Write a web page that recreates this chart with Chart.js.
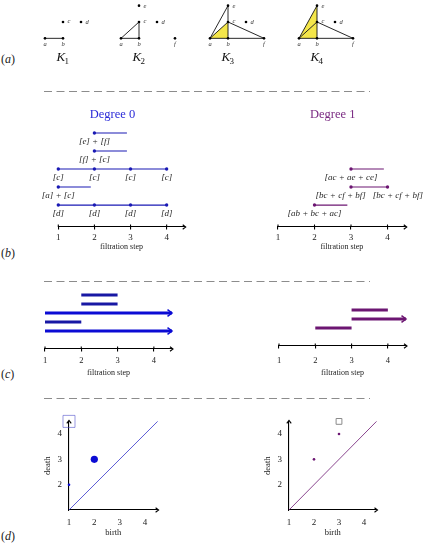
<!DOCTYPE html>
<html>
<head>
<meta charset="utf-8">
<script src="https://cdn.jsdelivr.net/npm/chart.js@4.4.0/dist/chart.umd.min.js"></script>
<style>
body { margin: 0; background: #fff; width: 427px; height: 543px; position: relative; overflow: hidden; }
canvas { position: absolute; }
.tag { position: absolute; left: 1px; font: 12px "Liberation Serif", serif; color: #222; }
</style>
</head>
<body>
<svg width="427" height="543" style="position:absolute;left:0;top:0">
  <g stroke="#8c8c8c" stroke-width="1" stroke-dasharray="8 4.5">
    <line x1="44" y1="91.5" x2="370" y2="91.5"/>
    <line x1="44" y1="281.5" x2="370" y2="281.5"/>
    <line x1="44" y1="398.5" x2="370" y2="398.5"/>
  </g>
</svg>
<div class="tag" style="top:52px">(<i>a</i>)</div>
<div class="tag" style="top:246px">(<i>b</i>)</div>
<div class="tag" style="top:367px">(<i>c</i>)</div>
<div class="tag" style="top:529px">(<i>d</i>)</div>

<canvas id="k0" width="84" height="70" style="left:30px;top:0"></canvas>
<canvas id="k1" width="84" height="70" style="left:106px;top:0"></canvas>
<canvas id="k2" width="84" height="70" style="left:195px;top:0"></canvas>
<canvas id="k3" width="84" height="70" style="left:284px;top:0"></canvas>
<canvas id="steps0" width="170" height="160" style="left:30px;top:100px"></canvas>
<canvas id="steps1" width="177" height="160" style="left:250px;top:100px"></canvas>
<canvas id="bars0" width="160" height="102" style="left:30px;top:283px"></canvas>
<canvas id="bars1" width="177" height="102" style="left:250px;top:283px"></canvas>
<canvas id="diag0" width="140" height="138" style="left:35px;top:405px"></canvas>
<canvas id="diag1" width="140" height="138" style="left:255px;top:405px"></canvas>

<script>
//########## DATA ###########

// vertices of the simplicial complexes
var vertexNames = ['a', 'b', 'c', 'd', 'e', 'f'];
var vertexX = [0, 1, 1, 2, 1, 3];
var vertexY = [0, 0, 1, 1, 2, 0];

// the filtration K1 .. K4
var complexNames = ['K1', 'K2', 'K3', 'K4'];
var complexVertices = ['abcd', 'abcdef', 'abcdef', 'abcdef'];
var complexEdges = [
    ['ab'],
    ['ab', 'ac', 'bc'],
    ['ab', 'ac', 'bc', 'ce', 'ae', 'bf', 'cf'],
    ['ab', 'ac', 'bc', 'ce', 'ae', 'bf', 'cf']
];
var complexTriangles = [[], [], ['abc'], ['abc', 'ace']];

// filtration steps (tick labels)
var steps = [1, 2, 3, 4];

// degree 0 classes, top row first (null = never dies)
var deg0Births = [2, 2, 1, 1, 1];
var deg0Deaths = [3, 3, null, 2, null];
var deg0Labels = [
    ['[e] + [f]'],
    ['[f] + [c]'],
    ['[c]', '[c]', '[c]', '[c]'],
    ['[a] + [c]'],
    ['[d]', '[d]', '[d]', '[d]']
];

// degree 1 classes
var deg1Births = [3, 3, 2];
var deg1Deaths = [4, null, 3];
var deg1Labels = [
    ['[ac + ae + ce]'],
    ['[bc + cf + bf]', '[bc + cf + bf]'],
    ['[ab + bc + ac]']
];

//########## STYLE ###########

var axisMax = 4.5;
var serif = 'Liberation Serif';
var blue = '#1a1ab4';
var blueBright = '#0b0bd4';
var purple = '#6c1672';
var yellow = '#f4e64a';
Chart.defaults.font.family = serif;

// where the little vertex names sit relative to the vertex
var labelOffset = { a: [0, 5.5], b: [0, 5.5], c: [6, -0.7], d: [6, 0.5], e: [6, 0.3], f: [0, 6] };

function vertexPoint(n) {
    var i = vertexNames.indexOf(n);
    return { x: vertexX[i], y: vertexY[i] };
}

function arrowHead(ctx, x, y, dx, dy, s) {
    var nx = -dy, ny = dx;
    ctx.beginPath();
    ctx.moveTo(x - dx * s + nx * s * 0.75, y - dy * s + ny * s * 0.75);
    ctx.lineTo(x, y);
    ctx.lineTo(x - dx * s - nx * s * 0.75, y - dy * s - ny * s * 0.75);
    ctx.stroke();
}

//########## PLUGINS ###########

var complexLabels = {
    id: 'complexLabels',
    afterDatasetsDraw: function (chart, args, opts) {
        var ctx = chart.ctx;
        var xs = chart.scales.x, ys = chart.scales.y;
        ctx.save();
        ctx.fillStyle = '#333';
        ctx.font = 'italic 6.5px "' + serif + '"';
        ctx.textAlign = 'center';
        ctx.textBaseline = 'middle';
        chart.data.datasets.forEach(function (ds) {
            if (!ds.names) return;
            ds.data.forEach(function (p, i) {
                var off = labelOffset[ds.names[i]];
                ctx.fillText(ds.names[i], xs.getPixelForValue(p.x) + off[0], ys.getPixelForValue(p.y) + off[1]);
            });
        });
        // name of the complex, under vertex b
        var bx = xs.getPixelForValue(vertexX[1]);
        var by = chart.chartArea.bottom + 19.5;
        ctx.font = 'italic 13px "' + serif + '"';
        var wK = ctx.measureText(opts.letter).width;
        ctx.font = '9px "' + serif + '"';
        var wS = ctx.measureText(opts.sub).width;
        var left = bx - (wK + wS) / 2;
        ctx.textAlign = 'left';
        ctx.textBaseline = 'alphabetic';
        ctx.fillStyle = '#111';
        ctx.font = 'italic 13px "' + serif + '"';
        ctx.fillText(opts.letter, left, by);
        ctx.font = '9px "' + serif + '"';
        ctx.fillText(opts.sub, left + wK - 0.5, by + 2.5);
        ctx.restore();
    }
};

var rowLabels = {
    id: 'rowLabels',
    afterDatasetsDraw: function (chart) {
        var ctx = chart.ctx;
        ctx.save();
        ctx.font = 'italic 9px "' + serif + '"';
        ctx.fillStyle = '#2a2a2a';
        ctx.textAlign = 'left';
        ctx.textBaseline = 'middle';
        chart.data.datasets.forEach(function (ds, d) {
            if (!ds.texts) return;
            var pts = chart.getDatasetMeta(d).data;
            var boxes = pts.map(function (p, i) {
                var w = ctx.measureText(ds.texts[i]).width;
                return { left: p.x - w / 2, w: w, y: p.y + 9 };
            });
            // push overlapping labels apart
            for (var i = 1; i < boxes.length; i++) {
                var over = boxes[i - 1].left + boxes[i - 1].w + 7 - boxes[i].left;
                if (over > 0) {
                    boxes[i - 1].left -= over / 2;
                    boxes[i].left += over / 2;
                }
            }
            boxes.forEach(function (b, i) { ctx.fillText(ds.texts[i], b.left, b.y); });
        });
        ctx.restore();
    }
};

var degreeTitle = {
    id: 'degreeTitle',
    afterDraw: function (chart, args, opts) {
        if (!opts.text) return;
        var ctx = chart.ctx;
        ctx.save();
        ctx.font = '12.5px "' + serif + '"';
        ctx.fillStyle = opts.color;
        ctx.textAlign = 'center';
        ctx.textBaseline = 'middle';
        ctx.fillText(opts.text, chart.scales.x.getPixelForValue(2.5), chart.chartArea.top - 9);
        ctx.restore();
    }
};

var axisArrows = {
    id: 'axisArrows',
    afterDraw: function (chart, args, opts) {
        var ctx = chart.ctx, a = chart.chartArea;
        ctx.save();
        ctx.strokeStyle = '#000';
        ctx.lineWidth = 1.1;
        if (opts.x) arrowHead(ctx, a.right + 1, a.bottom, 1, 0, 3);
        if (opts.y) arrowHead(ctx, a.left, a.top - 1, 0, -1, 3);
        if (opts.upTicks) {
            chart.scales.x.ticks.forEach(function (t) {
                var x = chart.scales.x.getPixelForValue(t.value);
                ctx.beginPath();
                ctx.moveTo(x, a.bottom - 2.5);
                ctx.lineTo(x, a.bottom);
                ctx.stroke();
            });
        }
        ctx.restore();
    }
};

var barArrows = {
    id: 'barArrows',
    afterDatasetsDraw: function (chart) {
        var ctx = chart.ctx;
        chart.data.datasets.forEach(function (ds, d) {
            if (!ds.openEnd) return;
            var pts = chart.getDatasetMeta(d).data;
            var end = pts[pts.length - 1];
            ctx.save();
            ctx.strokeStyle = ds.borderColor;
            ctx.lineWidth = 1.5;
            arrowHead(ctx, end.x, end.y, 1, 0, 4.5);
            ctx.restore();
        });
    }
};

var quiet = { legend: { display: false }, tooltip: { enabled: false } };

//########## (a) COMPLEXES ###########

complexNames.forEach(function (name, k) {
    var datasets = [];
    complexTriangles[k].forEach(function (tri) {
        var pts = (tri + tri[0]).split('').map(vertexPoint);
        datasets.push({ data: pts, fill: 'shape', backgroundColor: yellow, borderWidth: 0, pointRadius: 0, order: 2 });
    });
    complexEdges[k].forEach(function (e) {
        datasets.push({ data: e.split('').map(vertexPoint), borderColor: '#111', borderWidth: 0.9, pointRadius: 0, fill: false, order: 1 });
    });
    var names = complexVertices[k].split('');
    datasets.push({
        data: names.map(vertexPoint), names: names, showLine: false,
        pointRadius: 1.3, pointBackgroundColor: '#000', pointBorderWidth: 0, order: 0, clip: false
    });

    new Chart(document.getElementById('k' + k), {
        type: 'line',
        data: { datasets: datasets },
        options: {
            responsive: false, animation: false, events: [],
            layout: { padding: { left: 6, right: 6, top: 0.2, bottom: 28.4 } },
            plugins: Object.assign({ complexLabels: { letter: name[0], sub: name.slice(1) } }, quiet),
            scales: {
                x: { type: 'linear', display: false, min: -0.5, max: 3.5 },
                y: { type: 'linear', display: false, min: -0.2, max: 2.1 }
            }
        },
        plugins: [complexLabels]
    });
});

//########## (b) + (c) BARCODES ###########

function stepAxis(height, tickPad, fontSize) {
    return {
        type: 'linear', min: 1, max: axisMax,
        border: { display: true, color: '#000', width: 1.1 },
        grid: { display: true, drawOnChartArea: false, drawTicks: true, tickLength: 2.5, color: '#000', lineWidth: 1.1 },
        ticks: {
            stepSize: 1, includeBounds: false, padding: tickPad, color: '#222', maxRotation: 0, autoSkip: false,
            font: { family: serif, size: fontSize },
            callback: function (v) { return steps.indexOf(v) >= 0 ? String(v) : ''; }
        },
        title: { display: true, text: 'filtration step', color: '#222', font: { family: serif, size: 8 }, padding: { top: 0, bottom: 0 } },
        afterFit: function (s) { s.height = height; }
    };
}

function buildStepChart(canvasId, births, deaths, texts, color, title, titleColor, pad) {
    var n = births.length;
    var datasets = [];
    births.forEach(function (b, i) {
        var y = n - i;
        var d = deaths[i];
        var end = d === null ? steps[steps.length - 1] : d - 0.1;
        var live = steps.filter(function (s) { return s >= b && (d === null || s < d); });
        datasets.push({ data: [{ x: b, y: y }, { x: end, y: y }], borderColor: color, borderWidth: 1.2, pointRadius: 0, clip: false });
        datasets.push({
            data: live.map(function (s) { return { x: s, y: y }; }), texts: texts[i], showLine: false,
            pointRadius: 1.7, pointBackgroundColor: color, pointBorderWidth: 0, clip: false
        });
    });
    return new Chart(document.getElementById(canvasId), {
        type: 'line',
        data: { datasets: datasets },
        options: {
            responsive: false, animation: false, events: [],
            layout: { padding: pad },
            plugins: Object.assign({ degreeTitle: { text: title, color: titleColor }, axisArrows: { x: true, upTicks: true } }, quiet),
            scales: {
                x: stepAxis(25, 3, 9),
                y: { type: 'linear', display: false, min: -0.22, max: 5.5 }
            }
        },
        plugins: [rowLabels, degreeTitle, axisArrows]
    });
}

buildStepChart('steps0', deg0Births, deg0Deaths, deg0Labels, blue, 'Degree 0', '#2a2ad8',
    { left: 28.3, right: 15.3, top: 24, bottom: 8 });
buildStepChart('steps1', deg1Births, deg1Deaths, deg1Labels, purple, 'Degree 1', '#7a2a82',
    { left: 28, right: 21.25, top: 24, bottom: 8 });

function buildBarChart(canvasId, births, deaths, color, infColor, yMax, pad, axisH, tickPad) {
    var n = births.length;
    var datasets = births.map(function (b, i) {
        var y = n - i;
        var open = deaths[i] === null;
        return {
            data: [{ x: b, y: y }, { x: open ? axisMax : deaths[i], y: y }],
            borderColor: open ? infColor : color, borderWidth: 3, pointRadius: 0, clip: false, openEnd: open
        };
    });
    return new Chart(document.getElementById(canvasId), {
        type: 'line',
        data: { datasets: datasets },
        options: {
            responsive: false, animation: false, events: [],
            layout: { padding: pad },
            plugins: Object.assign({ axisArrows: { x: true, upTicks: true } }, quiet),
            scales: {
                x: stepAxis(axisH, tickPad, 8.5),
                y: { type: 'linear', display: false, min: -1, max: yMax }
            }
        },
        plugins: [barArrows, axisArrows]
    });
}

buildBarChart('bars0', deg0Births, deg0Deaths, '#1818a4', blueBright, 5.5,
    { left: 15, right: 18, top: 7.5, bottom: 7 }, 29, 4);
buildBarChart('bars1', deg1Births, deg1Deaths, purple, purple, 3.5,
    { left: 29, right: 21, top: 22.5, bottom: 7.2 }, 31.8, 7);

//########## (d) PERSISTENCE DIAGRAMS ###########

function pairPoints(births, deaths) {
    var pts = [];
    births.forEach(function (b, i) {
        var inf = deaths[i] === null;
        var d = inf ? axisMax : deaths[i];
        var p = pts.find(function (q) { return q.x === b && q.y === d; });
        if (p) p.count++;
        else pts.push({ x: b, y: d, count: 1, inf: inf });
    });
    return pts;
}

function diagramAxis(title, hideOne, fitFn) {
    return {
        type: 'linear', min: 1, max: axisMax,
        border: { display: true, color: '#000', width: 1.1 },
        grid: { display: false, drawTicks: false },
        ticks: {
            stepSize: 1, includeBounds: false, padding: 7, color: '#222', maxRotation: 0, autoSkip: false,
            font: { family: serif, size: 9 },
            callback: function (v) { return steps.indexOf(v) < 0 || (hideOne && v === steps[0]) ? '' : String(v); }
        },
        title: { display: true, text: title, color: '#222', font: { family: serif, size: 8.5 }, padding: { top: 1, bottom: 0 } },
        afterFit: fitFn
    };
}

function buildDiagram(canvasId, births, deaths, color, dotColor, boxColor, pad) {
    var pts = pairPoints(births, deaths);
    var fin = pts.filter(function (p) { return !p.inf; });
    var inf = pts.filter(function (p) { return p.inf; });
    return new Chart(document.getElementById(canvasId), {
        type: 'line',
        data: {
            datasets: [
                {
                    data: fin, showLine: false, clip: false, order: 0,
                    pointRadius: fin.map(function (p) { return p.count > 1 ? 3.6 : 1.3; }),
                    pointBackgroundColor: dotColor, pointBorderWidth: 0
                },
                {
                    data: inf, showLine: false, clip: false, order: 0, pointStyle: 'rect',
                    pointRadius: inf.map(function (p) { return p.count > 1 ? 8.5 : 4.1; }),
                    pointBackgroundColor: 'rgba(0,0,0,0)', pointBorderColor: boxColor, pointBorderWidth: 1
                },
                {
                    data: [{ x: 1, y: 1 }, { x: axisMax, y: axisMax }], order: 1,
                    borderColor: color, borderWidth: 0.8, pointRadius: 0, clip: false
                }
            ]
        },
        options: {
            responsive: false, animation: false, events: [],
            layout: { padding: pad },
            plugins: Object.assign({ axisArrows: { x: true, y: true } }, quiet),
            scales: {
                x: diagramAxis('birth', false, function (s) { s.height = 27.8; }),
                y: diagramAxis('death', true, function (s) { s.width = 27; })
            }
        },
        plugins: [axisArrows]
    });
}

buildDiagram('diag0', deg0Births, deg0Deaths, '#3535cc', blueBright, 'rgba(70,70,200,0.55)',
    { left: 7, right: 17.4, top: 16.4, bottom: 5.2 });
buildDiagram('diag1', deg1Births, deg1Deaths, purple, purple, '#8a8a8a',
    { left: 7, right: 18.5, top: 16.4, bottom: 5.2 });
</script>
</body>
</html>
